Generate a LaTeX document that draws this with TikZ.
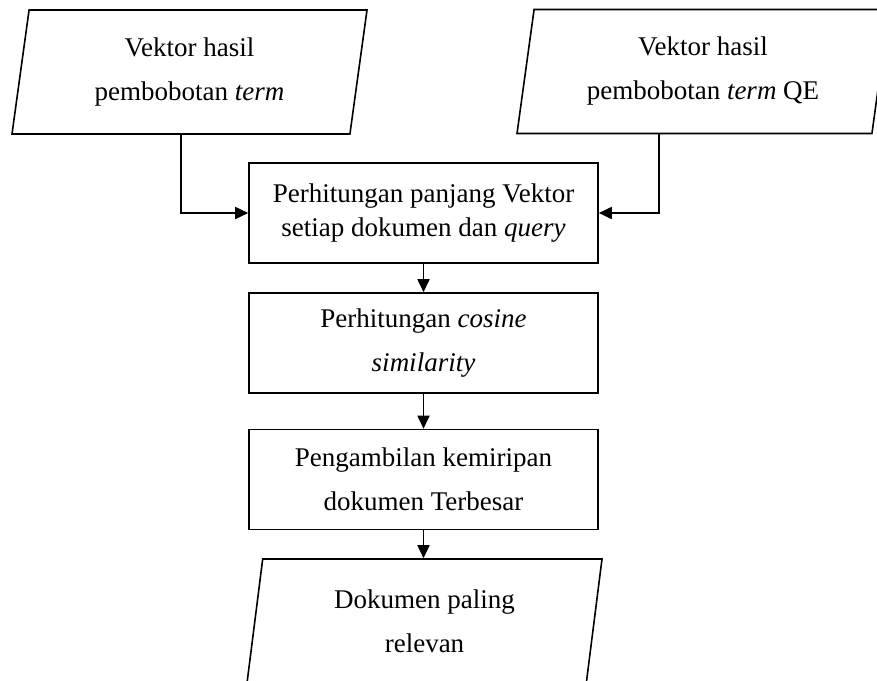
\documentclass[tikz,border=0pt]{standalone}
\usepackage{fontspec}
\setmainfont{Liberation Serif}
\usetikzlibrary{shapes.geometric,arrows.meta,calc}

\tikzset{
	proses/.style={draw, line width=0.8pt, minimum width=174.5pt, minimum height=50pt, align=center, inner sep=0pt, font=\fontsize{13.5}{22}\selectfont},
	datanya/.style={draw, line width=0.8pt, trapezium, trapezium left angle=76, trapezium right angle=104, trapezium stretches body, minimum height=62pt, align=center, inner sep=0pt, font=\fontsize{13.5}{22}\selectfont},
	panah/.style={-{Triangle[length=6.5pt,width=6pt]}, line width=0.9pt}
}

\begin{document}
\begin{tikzpicture}[x=0.5pt, y=-0.5pt]
				\clip (0,0) rectangle (877,680);
				
				\node[datanya, minimum width=177.5pt] (V1) at (189.5, 72) {Vektor hasil\\pembobotan \textit{term}};
				\node[datanya, minimum width=186pt] (V2) at (703, 71.5) {Vektor hasil\\pembobotan \textit{term} QE};
				
				\node[proses, font=\fontsize{13.5}{17}\selectfont] (P1) at (423.5, 213) {Perhitungan panjang Vektor\\setiap dokumen dan \textit{query}};
				\node[proses] (P2) at (423.5, 343) {Perhitungan \textit{cosine}\\\textit{similarity}};
				\node[proses] (P3) at (423.5, 479.5) {Pengambilan kemiripan\\dokumen Terbesar};
				
				\node[datanya, minimum width=177.5pt] (D1) at (424.5, 621) {Dokumen paling\\relevan};
				
				\draw[panah] (V1.bottom side) |- (P1.west);
				\draw[panah] ($(V2.bottom left corner)!0.4!(V2.bottom right corner)$) |- (P1.east);
				\draw[panah] (P1) -- (P2);
				\draw[panah] (P2) -- (P3);
				\draw[panah] (P3.south) -- (P3.south |- D1.top side);
			\end{tikzpicture}
\end{document}
